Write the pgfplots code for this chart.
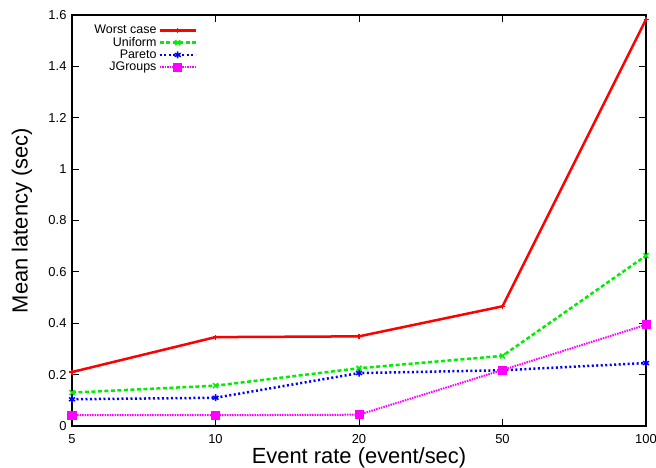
\documentclass[border=0pt]{standalone}
\usepackage{fontspec}
\setmainfont{Liberation Sans}
\usepackage{pgfplots}
\pgfplotsset{compat=1.18}
\definecolor{gpred}{RGB}{255,0,0}
\definecolor{gpgreen}{RGB}{0,238,0}
\definecolor{gpblue}{RGB}{0,0,255}
\definecolor{gpmag}{RGB}{255,0,255}
\begin{document}
\begin{tikzpicture}
\begin{axis}[
  scale only axis, width=574bp, height=411bp,
  at={(72bp,42bp)}, anchor=south west,
  xmin=0, xmax=4, ymin=0, ymax=1.6,
  xtick={0,1,2,3,4}, xticklabels={5,10,20,50,100},
  ytick={0,0.2,0.4,0.6,0.8,1,1.2,1.4,1.6},
  tick align=inside, major tick length=7bp,
  axis line style={line width=1.2bp},
  every tick/.style={line width=0.8bp, black},
  tick label style={font=\fontsize{13}{13}\selectfont},
  xticklabel style={yshift=-5bp},
  yticklabel style={xshift=-2bp},
  /pgf/number format/assume math mode=true,
  xlabel={Event rate (event/sec)}, ylabel={Mean latency (sec)},
  label style={font=\fontsize{22}{22}\selectfont},
  xlabel style={at={(axis description cs:0.5,-0.0905)}, anchor=base},
  ylabel style={at={(axis description cs:-0.087,0.5)}, anchor=center},
  legend style={draw=none, fill=none, at={(0.03,0.985)}, anchor=north west,
    font=\fontsize{12.5}{12.5}\selectfont, row sep=-2pt},
  legend cell align=right, legend plot pos=right,
  legend image code/.code={\draw[mark repeat=2,mark phase=2] plot coordinates {(0bp,0bp) (18bp,0bp) (36bp,0bp)};},
]
\addplot[gpred, line width=2.5bp, mark=+, mark size=2.5bp, mark options={solid, line width=1.5bp}]
  coordinates {(0,0.21) (1,0.346) (2,0.349) (3,0.466) (4,1.583)};
\addlegendentry{Worst case}
\addplot[gpgreen, line width=2.5bp, dash pattern=on 4bp off 2.5bp, mark=x, mark size=3.5bp, mark options={solid, line width=1.5bp}]
  coordinates {(0,0.13) (1,0.157) (2,0.225) (3,0.273) (4,0.663)};
\addlegendentry{Uniform}
\addplot[gpblue, line width=2.5bp, dash pattern=on 2bp off 2.5bp, mark=asterisk, mark size=3.5bp, mark options={solid, line width=1.5bp}]
  coordinates {(0,0.104) (1,0.11) (2,0.206) (3,0.217) (4,0.245)};
\addlegendentry{Pareto}
\addplot[gpmag, line width=2bp, dash pattern=on 1.5bp off 1bp, mark=square*, mark size=3.5bp, mark options={solid}]
  coordinates {(0,0.042) (1,0.042) (2,0.044) (3,0.218) (4,0.394)};
\addlegendentry{JGroups}
\end{axis}
\pgfresetboundingbox
\path[use as bounding box] (0,0) rectangle (656bp,468bp);
\end{tikzpicture}
\end{document}
